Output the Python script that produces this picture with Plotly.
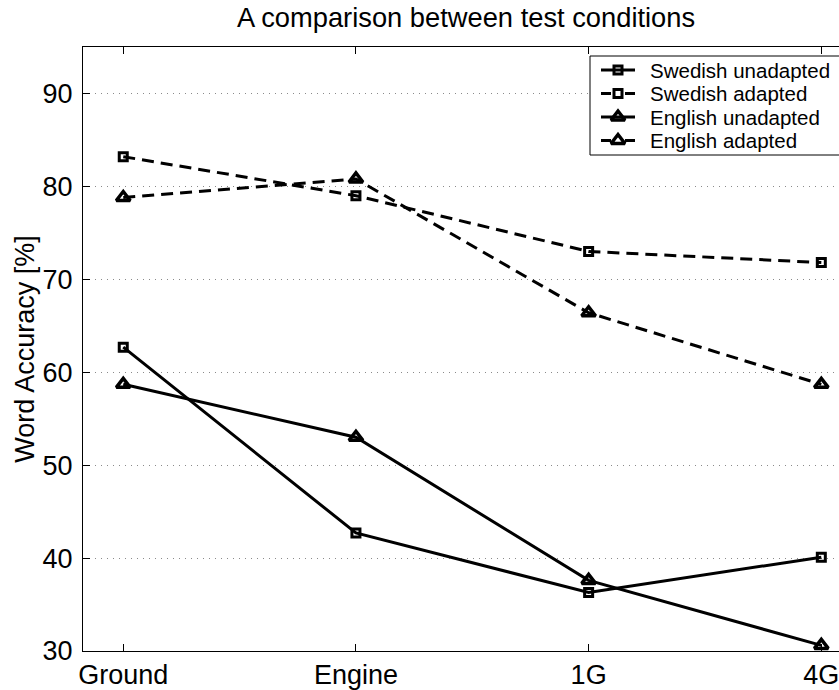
import plotly.graph_objects as go

# Test conditions along the x axis
conditions = ["Ground", "Engine", "1G", "4G"]

# Word accuracy [%] per condition
swedish_unadapted = [62.7, 42.7, 36.3, 40.1]
swedish_adapted = [83.2, 79.0, 73.0, 71.8]
english_unadapted = [58.7, 53.0, 37.6, 30.6]
english_adapted = [78.8, 80.8, 66.4, 58.7]

y_ticks = [30, 40, 50, 60, 70, 80, 90]

W, H = 839, 690
L, T, B = 83, 47, 39
FONT = "Liberation Sans, Arial, Helvetica, sans-serif"
DASH = "12px,7px"

# name, values, line dash, marker symbol, marker size, marker outline width
series = [
    ("Swedish unadapted", swedish_unadapted, "solid", "square-open", 8, 3),
    ("Swedish adapted", swedish_adapted, DASH, "square-open", 8, 3),
    ("English unadapted", english_unadapted, "solid", "triangle-up-open", 12, 3.5),
    ("English adapted", english_adapted, DASH, "triangle-up-open", 12, 3.5),
]

fig = go.Figure()
for name, values, dash, symbol, size, mlw in series:
    fig.add_trace(go.Scatter(
        x=conditions, y=values, name=name, mode="lines+markers",
        line=dict(color="black", width=3, dash=dash),
        marker=dict(symbol=symbol, size=size, color="black",
                    line=dict(color="black", width=mlw)),
        cliponaxis=False, showlegend=False,
    ))

# Legend box drawn on a hidden overlay axis measured in pixels
legend_rows = [70, 93.5, 117, 140.5]
sym_x0, sym_xm, sym_x1, text_x = 601, 618, 635, 648
box_x0, box_x1, box_y0, box_y1 = 590, 870, 56, 155
fig.add_trace(go.Scatter(
    x=[box_x0, box_x1, box_x1, box_x0, box_x0],
    y=[box_y0, box_y0, box_y1, box_y1, box_y0],
    xaxis="x2", yaxis="y2", mode="lines", fill="toself",
    fillcolor="white", line=dict(color="black", width=1),
    showlegend=False, hoverinfo="skip",
))
for (name, values, dash, symbol, size, mlw), ry in zip(series, legend_rows):
    fig.add_trace(go.Scatter(
        x=[sym_x0, sym_x1], y=[ry, ry], xaxis="x2", yaxis="y2",
        mode="lines",
        line=dict(color="black", width=3,
                  dash="solid" if dash == "solid" else "10px,14px,10px"),
        showlegend=False, hoverinfo="skip",
    ))
    fig.add_trace(go.Scatter(
        x=[sym_xm], y=[ry], xaxis="x2", yaxis="y2", mode="markers",
        marker=dict(symbol=symbol, size=size, color="black",
                    line=dict(color="black", width=mlw)),
        showlegend=False, hoverinfo="skip",
    ))
    fig.add_annotation(x=text_x, y=ry, xref="x2", yref="y2", text=name,
                       showarrow=False, xanchor="left", yanchor="middle",
                       font=dict(size=20.5, color="black"))

fig.update_layout(
    width=W, height=H,
    margin=dict(l=L, r=0, t=T, b=B, pad=0),
    paper_bgcolor="white", plot_bgcolor="white",
    font=dict(family=FONT, size=27, color="black"),
    title=dict(text="A comparison between test conditions",
               xref="container", yref="container",
               x=466 / W, y=1 - 17 / H, xanchor="center", yanchor="middle",
               font=dict(size=27.3, color="black")),
    showlegend=False,
    xaxis=dict(
        type="category",
        range=[-0.173, 3.076],
        showgrid=False, zeroline=False,
        showline=True, linecolor="black", linewidth=1, mirror="ticks",
        ticks="inside", ticklen=7, tickcolor="black", tickwidth=1,
        tickfont=dict(size=27),
    ),
    yaxis=dict(
        range=[30, 95],
        tickvals=y_ticks,
        showgrid=True, gridcolor="#8a8a8a", gridwidth=1, griddash="1px,5px",
        zeroline=False,
        showline=True, linecolor="black", linewidth=1, mirror=False,
        ticks="inside", ticklen=7, tickcolor="black", tickwidth=1,
        tickfont=dict(size=27),
        ticklabelstandoff=4,
        title=dict(text="Word Accuracy [%]", font=dict(size=27), standoff=0),
    ),
    xaxis2=dict(overlaying="x", range=[L, W], visible=False, fixedrange=True),
    yaxis2=dict(overlaying="y", range=[H - B, T], visible=False, fixedrange=True),
)

fig.write_html("out.html")
